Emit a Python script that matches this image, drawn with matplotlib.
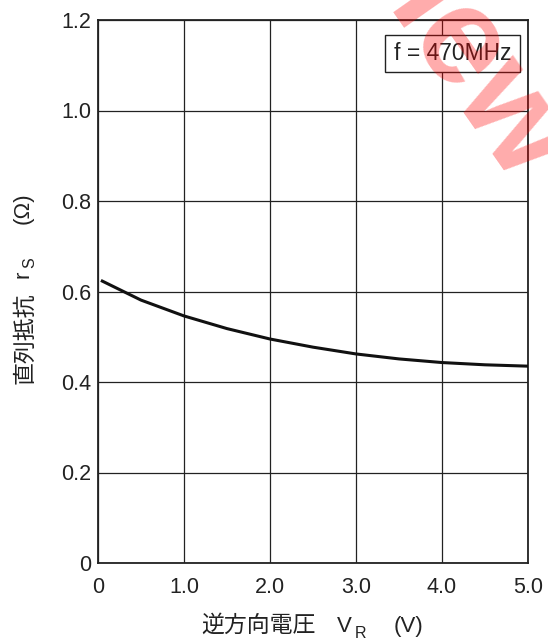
import matplotlib.pyplot as plt
from matplotlib.patches import Rectangle

plt.rcParams['font.family'] = ['Liberation Sans', 'Noto Sans CJK JP']

# 逆方向電圧 VR (V) vs 直列抵抗 rs (Ω), f = 470MHz
vr = [0.05, 0.5, 1.0, 1.5, 2.0, 2.5, 3.0, 3.5, 4.0, 4.5, 5.0]
rs = [0.623, 0.581, 0.546, 0.518, 0.495, 0.477, 0.462, 0.451, 0.443, 0.438, 0.435]

xticks = [0, 1.0, 2.0, 3.0, 4.0, 5.0]
xticklabels = ['0', '1.0', '2.0', '3.0', '4.0', '5.0']
yticks = [0, 0.2, 0.4, 0.6, 0.8, 1.0, 1.2]
yticklabels = ['0', '0.2', '0.4', '0.6', '0.8', '1.0', '1.2']

W, H = 548, 643
fig = plt.figure(figsize=(W / 100, H / 100), dpi=100)
ax = fig.add_axes([98 / W, 80 / H, 430 / W, 543 / H])

ax.plot(vr, rs, color='#111111', lw=2.2, zorder=3)

ax.set_xlim(0, 5.0)
ax.set_ylim(0, 1.2)
ax.set_xticks(xticks)
ax.set_xticklabels(xticklabels)
ax.set_yticks(yticks)
ax.set_yticklabels(yticklabels)
ax.tick_params(labelsize=15.5, length=0, colors='#222222')
ax.tick_params(axis='x', pad=10)
ax.tick_params(axis='y', pad=5)
ax.grid(True, color='#222222', lw=0.9)
for s in ax.spines.values():
    s.set_linewidth(1.3)
    s.set_color('#222222')


def px(x, y):
    # figure pixel (from top-left) -> figure fraction
    return x / W, 1 - y / H


# x axis label pieces
kw = dict(color='#222222', va='baseline', ha='left')
fig.text(*px(201, 632), '逆方向電圧', fontsize=16.5, **kw)
fig.text(*px(337, 632), 'V', fontsize=16, **kw)
fig.text(*px(355, 638), 'R', fontsize=11.5, **kw)
fig.text(*px(394, 632), '(V)', fontsize=16, **kw)

# y axis label pieces (rotated)
kr = dict(color='#222222', rotation=90, rotation_mode='anchor', va='baseline')
fig.text(*px(31, 338), '直列抵抗', fontsize=16.5, ha='center', **kr)
fig.text(*px(29, 278), 'r', fontsize=16, ha='left', **kr)
fig.text(*px(34, 268), 'S', fontsize=11.5, ha='left', **kr)
fig.text(*px(29, 208), '(Ω)', fontsize=16, ha='center', **kr)

# condition box
x0, x1 = (385 - 98) / 430, (520 - 98) / 430
y0, y1 = (563 - 72) / 543, (563 - 35) / 543
ax.add_patch(Rectangle((x0, y0), x1 - x0, y1 - y0, transform=ax.transAxes,
                       facecolor='white', edgecolor='#222222', lw=1.0, zorder=5))
ax.text((x0 + x1) / 2, (y0 + y1) / 2, 'f = 470MHz', transform=ax.transAxes,
        ha='center', va='center', fontsize=16.5, color='#222222', zorder=6)

# watermark
fig.text(*px(462, 62), 'new', rotation=-55, rotation_mode='anchor', fontsize=100,
         fontweight='bold', color='#ff0000', alpha=0.33, ha='center', va='center',
         family='Liberation Sans', zorder=10)

fig.savefig('out.png', dpi=100)
